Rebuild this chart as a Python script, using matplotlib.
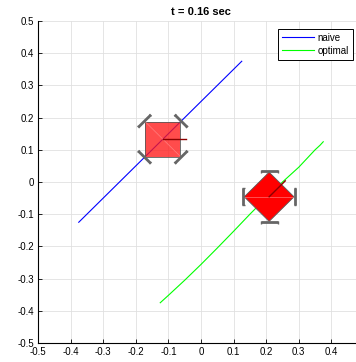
import numpy as np
import matplotlib
matplotlib.use('Agg')
import matplotlib.pyplot as plt
from matplotlib.patches import Polygon

# trajectories
naive_x = [-0.375, 0.125]
naive_y = [-0.125, 0.375]
optimal_x = [-0.125, -0.1, -0.05, 0.0, 0.05, 0.1, 0.15, 0.2, 0.25, 0.3, 0.35, 0.365, 0.375]
optimal_y = [-0.375, -0.352, -0.305, -0.256, -0.205, -0.153, -0.1, -0.049, 0.0, 0.046, 0.1, 0.114, 0.125]

# robot poses at t = 0.16 sec: x, y, heading (deg)
naive_pose = [-0.117, 0.133, 0.0]
optimal_pose = [0.209, -0.046, 45.0]

ticks = [-0.5, -0.4, -0.3, -0.2, -0.1, 0, 0.1, 0.2, 0.3, 0.4, 0.5]
title = 't = 0.16 sec'

plt.rcParams['font.family'] = ['Liberation Sans', 'DejaVu Sans']
plt.rcParams['axes.unicode_minus'] = False

HALF = 0.054      # half side of robot body
WHEEL = 0.026     # half wheel length
CAP = 0.0045      # half length of wheel end caps
HEAD = 0.07       # heading line length


def draw_robot(ax, pose, face, alpha):
    cx, cy, th = pose
    th = np.deg2rad(th)
    R = np.array([[np.cos(th), -np.sin(th)], [np.sin(th), np.cos(th)]])
    corners = np.array([[HALF, HALF], [-HALF, HALF], [-HALF, -HALF], [HALF, -HALF]])
    pts = corners @ R.T + [cx, cy]
    ax.add_patch(Polygon(pts, closed=True, facecolor=face, alpha=alpha,
                         edgecolor='none', zorder=4))
    ax.add_patch(Polygon(pts, closed=True, facecolor='none',
                         edgecolor=(0.35, 0.35, 0.35), lw=0.6, zorder=5))
    # seam of the two triangles
    ax.plot([pts[1][0], pts[3][0]], [pts[1][1], pts[3][1]],
            color=(1, 0.55, 0.55), lw=0.5, alpha=0.8, zorder=5)
    # wheels at the corners, tangent to the body
    for k in range(4):
        a = th + np.deg2rad(45 + 90 * k)
        r = HALF * np.sqrt(2) + 0.003
        wx, wy = cx + r * np.cos(a), cy + r * np.sin(a)
        tx, ty = -np.sin(a), np.cos(a)
        ax.plot([wx - WHEEL * tx, wx + WHEEL * tx], [wy - WHEEL * ty, wy + WHEEL * ty],
                color=(0.4, 0.4, 0.4), lw=2.0, solid_capstyle='butt', zorder=6)
        for s in (-1, 1):
            ex, ey = wx + s * WHEEL * tx, wy + s * WHEEL * ty
            nx, ny = np.cos(a), np.sin(a)
            ax.plot([ex - CAP * nx, ex + CAP * nx], [ey - CAP * ny, ey + CAP * ny],
                    color=(0.4, 0.4, 0.4), lw=1.0, solid_capstyle='butt', zorder=6)
    ax.plot([cx, cx + HEAD * np.cos(th)], [cy, cy + HEAD * np.sin(th)],
            color=(0.55, 0, 0), lw=1.0, zorder=7)


fig = plt.figure(figsize=(3.56, 3.62), dpi=100)
ax = fig.add_axes([38 / 356, 19 / 362, 326 / 356, 322 / 362])

ax.plot(naive_x, naive_y, color=(0, 0, 1), lw=0.8, label='naive', zorder=3)
ax.plot(optimal_x, optimal_y, color=(0, 1, 0), lw=0.8, label='optimal', zorder=3)

draw_robot(ax, naive_pose, (1, 0.1, 0.1), 0.78)
draw_robot(ax, optimal_pose, (1, 0, 0), 1.0)

ax.set_xlim(-0.5, 0.5)
ax.set_ylim(-0.5, 0.5)
ax.set_xticks(ticks)
ax.set_yticks(ticks)
ax.set_xticklabels(['%g' % t for t in ticks], fontsize=7)
ax.set_yticklabels(['%g' % t for t in ticks], fontsize=7)
ax.tick_params(direction='in', length=3, width=0.6, pad=3, colors='black')
ax.grid(True, color=(0.88, 0.88, 0.88), lw=0.6)
ax.set_axisbelow(True)
for side in ['top', 'right']:
    ax.spines[side].set_visible(False)
for side in ['left', 'bottom']:
    ax.spines[side].set_linewidth(0.8)
ax.set_title(title, fontsize=8, fontweight='bold', pad=4)

leg = ax.legend(loc='upper right', bbox_to_anchor=(353 / 356, 1 - 29 / 362),
                bbox_transform=fig.transFigure, fontsize=7, fancybox=False,
                framealpha=1, edgecolor='black', handlelength=3.3,
                borderpad=0.4, labelspacing=0.3, handletextpad=0.4, borderaxespad=0)
leg.get_frame().set_linewidth(0.7)

fig.savefig('out.png', dpi=100)
